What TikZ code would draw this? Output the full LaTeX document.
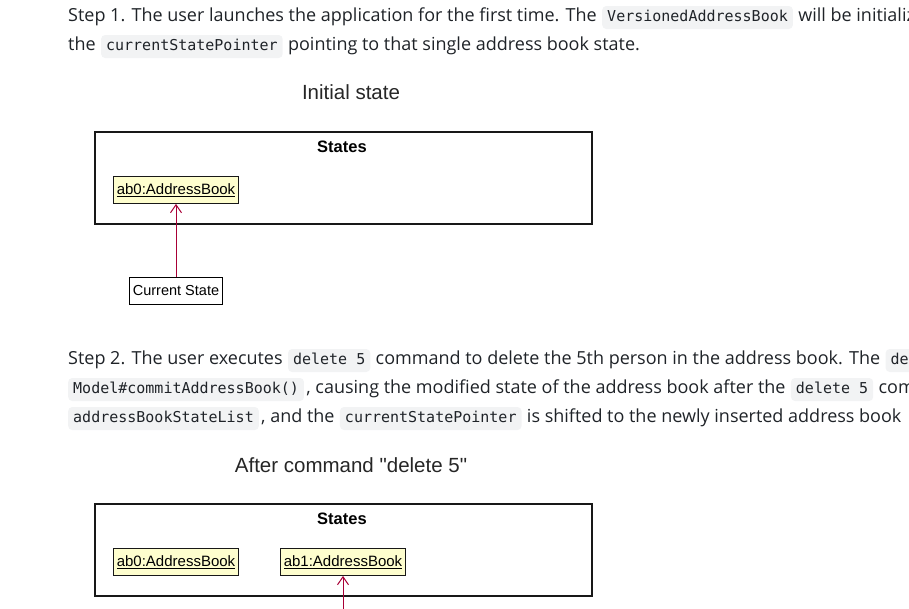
\documentclass[tikz,border=0pt]{standalone}
\usepackage{fontspec}
\setmainfont{Open Sans}
\setsansfont{Liberation Sans}
\setmonofont{DejaVu Sans Mono}
\usetikzlibrary{positioning,arrows.meta}
\definecolor{bodytext}{HTML}{1F2328}
\definecolor{codebg}{HTML}{F2F3F4}
\definecolor{umlyellow}{HTML}{FEFECE}
\definecolor{umlred}{HTML}{A80036}
\definecolor{umlline}{HTML}{181818}
\tikzset{
  txt/.style={inner sep=0pt, text=bodytext, font=\fontsize{18}{20}\selectfont},
  code/.style={fill=codebg, rounded corners=4pt, inner xsep=5pt, inner ysep=5pt,
    text height=10pt, text depth=3pt, text=bodytext, font=\ttfamily\fontsize{15}{15}\selectfont},
  seg/.style={anchor=base west},
  title/.style={font=\sffamily\fontsize{20.5}{22}\selectfont, text=black!85},
  frame/.style={draw=umlline, line width=1.4pt},
  framelabel/.style={font=\sffamily\bfseries\fontsize{16.5}{18}\selectfont},
  obj/.style={draw=umlline, fill=umlyellow, line width=0.8pt, inner xsep=3pt,
    minimum height=27pt, font=\sffamily\fontsize{15}{17}\selectfont},
  pointer/.style={draw=black, fill=white, line width=0.8pt, inner xsep=3pt,
    minimum height=27pt, font=\sffamily\fontsize{14.5}{16}\selectfont},
  link/.style={draw=umlred, line width=1pt, -{Straight Barb[length=8pt,width=11pt,line width=1pt]}}
}
\begin{document}
\begin{tikzpicture}[x=1pt, y=-1pt]
  \useasboundingbox (0,0) rectangle (909,608);
  \clip (0,0) rectangle (909,608);

  % step 1 text
  \node[txt, seg] (l1a) at (68,21) {Step 1. The user launches the application for the first time. The};
  \node[code, right=5pt of l1a.base east, seg] (l1b) {VersionedAddressBook};
  \node[txt, right=5pt of l1b.base east, seg] (l1c) {will be initialized};
  \node[txt, seg] (l2a) at (68,50) {the};
  \node[code, right=5pt of l2a.base east, seg] (l2b) {currentStatePointer};
  \node[txt, right=5pt of l2b.base east, seg] (l2c) {pointing to that single address book state.};

  % initial state diagram
  \node[title] (t1) at (351,92) {Initial state};
  \draw[frame] (95,132) rectangle (592,224);
  \node[framelabel] (s1) at (342,147) {States};
  \node[obj] (ab0) at (176,190) {\underline{ab0:AddressBook}};
  \node[pointer] (cur1) at (176,291) {Current State};
  \draw[link] (cur1) -- (ab0);

  % step 2 text
  \node[txt, seg] (l3a) at (68,364) {Step 2. The user executes};
  \node[code, right=5pt of l3a.base east, seg] (l3b) {delete 5};
  \node[txt, right=5pt of l3b.base east, seg] (l3c) {command to delete the 5th person in the address book. The};
  \node[code, right=5pt of l3c.base east, seg] (l3d) {delete};
  \node[code, seg] (l4a) at (68,393) {Model\#commitAddressBook()};
  \node[txt, right=2pt of l4a.base east, seg] (l4b) {, causing the modified state of the address book after the};
  \node[code, right=5pt of l4b.base east, seg] (l4c) {delete 5};
  \node[txt, right=5pt of l4c.base east, seg] (l4d) {command};
  \node[code, seg] (l5a) at (68,422) {addressBookStateList};
  \node[txt, right=2pt of l5a.base east, seg] (l5b) {, and the};
  \node[code, right=5pt of l5b.base east, seg] (l5c) {currentStatePointer};
  \node[txt, right=5pt of l5c.base east, seg] (l5d) {is shifted to the newly inserted address book};

  % after delete diagram
  \node[title] (t2) at (351,465) {After command \textquotedbl delete 5\textquotedbl};
  \draw[frame] (95,504) rectangle (592,596);
  \node[framelabel] (s2) at (342,519) {States};
  \node[obj] (ab0b) at (176,562) {\underline{ab0:AddressBook}};
  \node[obj] (ab1) at (343,562) {\underline{ab1:AddressBook}};
  \coordinate (cur2) at (343,640);
  \draw[link] (cur2) -- (ab1);
\end{tikzpicture}
\end{document}
